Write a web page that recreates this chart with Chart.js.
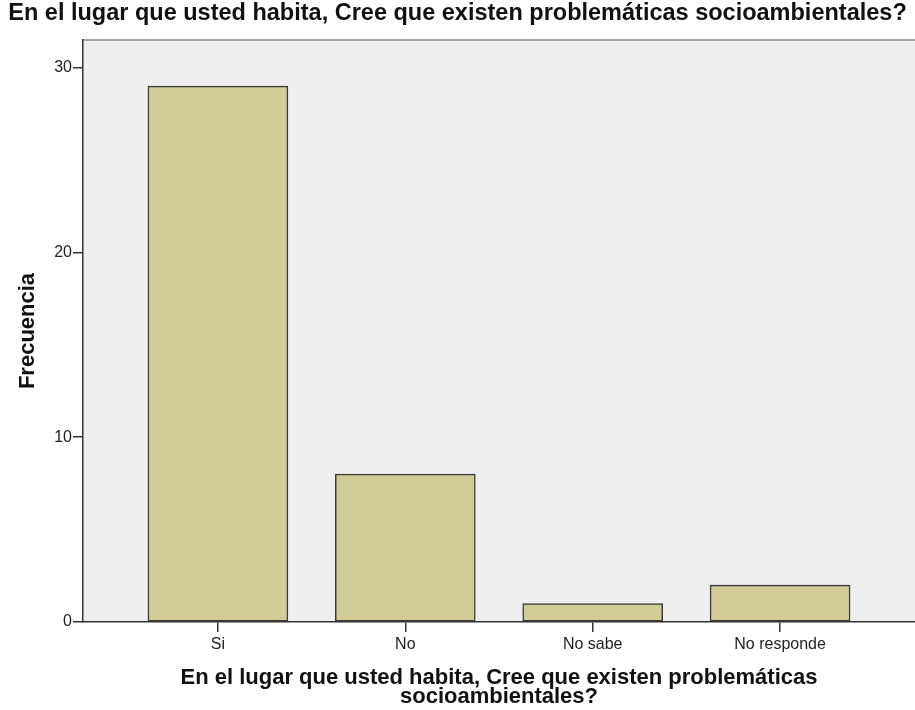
<!DOCTYPE html>
<html>
<head>
<meta charset="utf-8">
<script src="https://cdn.jsdelivr.net/npm/chart.js@4.4.1/dist/chart.umd.min.js"></script>
<style>
  html, body { margin: 0; padding: 0; background: #fff; }
  #wrap { width: 915px; height: 710px; position: relative; }
</style>
</head>
<body>
<div id="wrap"><canvas id="frecuencias"></canvas></div>
<script>
// datos
const categorias = ["Si", "No", "No sabe", "No responde"];
const frecuencias = [29, 8, 1, 2];
const yTicks = [0, 10, 20, 30];

const titulo = "En el lugar que usted habita, Cree que existen problemáticas socioambientales?";
const tituloX = ["En el lugar que usted habita, Cree que existen problemáticas", "socioambientales?"];

// fondo gris del area de trazado + linea superior
const fondoPlot = {
    id: 'fondoPlot',
    beforeDraw(chart) {
        const a = chart.chartArea;
        const ctx = chart.ctx;
        ctx.save();
        ctx.fillStyle = '#efefef';
        ctx.fillRect(a.left, a.top, a.right - a.left, a.bottom - a.top);
        ctx.strokeStyle = '#8c8c8c';
        ctx.lineWidth = 1.5;
        ctx.beginPath();
        ctx.moveTo(a.left, a.top);
        ctx.lineTo(a.right, a.top);
        ctx.stroke();
        ctx.restore();
    }
};

const ctx = document.getElementById("frecuencias").getContext('2d');

new Chart(ctx, {
    type: 'bar',
    plugins: [fondoPlot],
    data: {
        datasets: [{
            data: frecuencias.map((v, i) => ({ x: i, y: v })),
            backgroundColor: '#d2cd96',
            borderColor: '#3a3a3a',
            borderWidth: 1.5,
            borderSkipped: false,
            barThickness: 140
        }]
    },
    options: {
        responsive: true,
        maintainAspectRatio: false,
        animation: false,
        layout: { padding: 0 },
        plugins: {
            legend: { display: false },
            tooltip: { enabled: false },
            title: {
                display: true,
                text: titulo,
                color: '#111',
                font: { family: "'Liberation Sans', Arial, sans-serif", size: 23.5, weight: 'bold', lineHeight: 1 },
                padding: { top: 2.25, bottom: 14.25 }
            }
        },
        scales: {
            x: {
                type: 'linear',
                min: -0.72,
                max: 3.72,
                offset: false,
                afterBuildTicks: (scale) => {
                    scale.ticks = categorias.map((c, i) => ({ value: i }));
                },
                afterFit: (scale) => { scale.height = 88; },
                ticks: {
                    callback: (v) => categorias[v],
                    color: '#222',
                    padding: 3,
                    maxRotation: 0,
                    font: { family: "'Liberation Sans', Arial, sans-serif", size: 16 }
                },
                grid: {
                    offset: false,
                    drawOnChartArea: false,
                    drawTicks: true,
                    tickLength: 10,
                    color: '#333',
                    lineWidth: 1.5
                },
                border: { display: true, color: '#333', width: 1.5 },
                title: {
                    display: true,
                    text: tituloX,
                    color: '#111',
                    font: { family: "'Liberation Sans', Arial, sans-serif", size: 22, weight: 'bold', lineHeight: 0.87 },
                    padding: { top: 0, bottom: 3.3 }
                }
            },
            y: {
                min: 0,
                max: 31.5,
                afterBuildTicks: (scale) => {
                    scale.ticks = yTicks.map(v => ({ value: v }));
                },
                afterFit: (scale) => { scale.width = 83; },
                ticks: {
                    color: '#222',
                    padding: 1,
                    font: { family: "'Liberation Sans', Arial, sans-serif", size: 16 }
                },
                grid: {
                    drawOnChartArea: false,
                    drawTicks: true,
                    tickLength: 10,
                    color: '#333',
                    lineWidth: 1.5
                },
                border: { display: true, color: '#333', width: 1.5 },
                title: {
                    display: true,
                    text: 'Frecuencia',
                    color: '#111',
                    font: { family: "'Liberation Sans', Arial, sans-serif", size: 22, weight: 'bold', lineHeight: 1 },
                    padding: { top: 17, bottom: 0 }
                }
            }
        }
    }
});
</script>
</body>
</html>
